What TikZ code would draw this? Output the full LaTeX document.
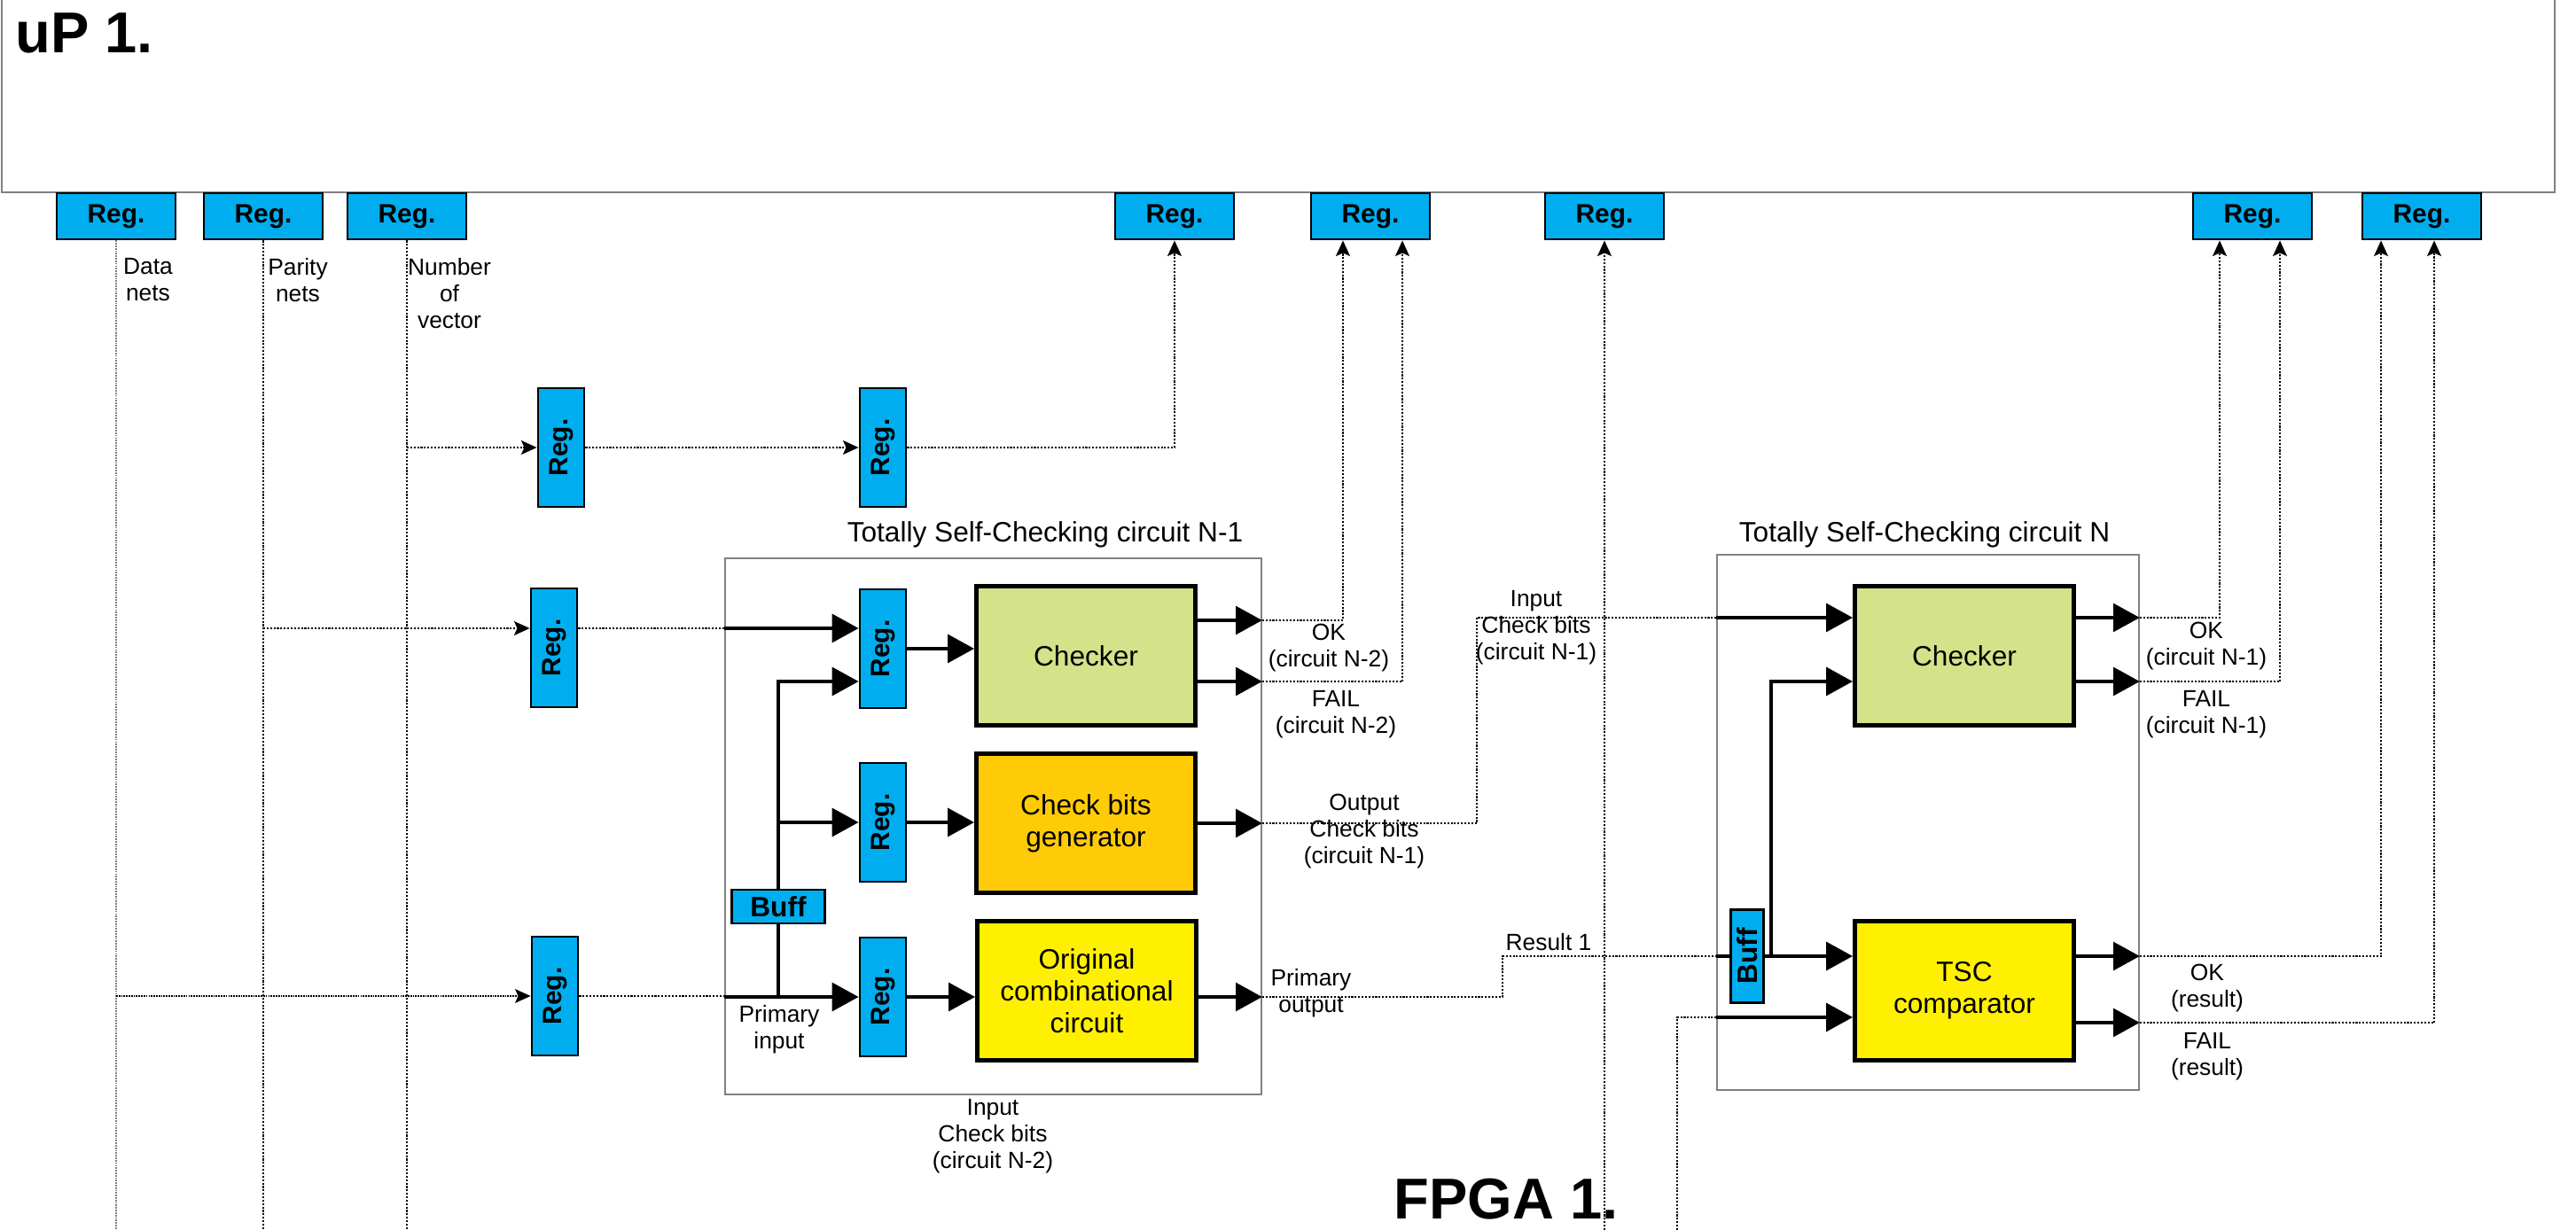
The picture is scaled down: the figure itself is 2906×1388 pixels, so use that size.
\documentclass[tikz,border=0pt]{standalone}
\usepackage{fontspec}
\setmainfont{Liberation Sans}
\usetikzlibrary{arrows.meta}

\definecolor{regblue}{RGB}{0,174,239}
\definecolor{chkgreen}{RGB}{212,226,138}
\definecolor{genorange}{RGB}{255,203,8}
\definecolor{origyellow}{RGB}{255,240,0}

\tikzset{
  reg/.style={draw, line width=0.8pt, fill=regblue, inner sep=0pt,
    font=\bfseries\fontsize{8.5}{9}\selectfont, minimum width=13.4mm, minimum height=5.2mm},
  vreg/.style={reg, minimum width=5.2mm, minimum height=13.4mm},
  blk/.style={draw, line width=1.4pt, minimum width=24.7mm, minimum height=15.7mm,
    align=center, inner sep=0pt, font=\fontsize{9}{10.3}\selectfont},
  tscbox/.style={draw=gray, line width=0.5pt, inner sep=0pt},
  bus/.style={line width=1.2pt},
  busarrow/.style={bus, -{Triangle[length=8.5pt,width=9pt]}},
  sig/.style={line width=0.7pt, dash pattern=on 0.6pt off 0.5pt},
  sigarrow/.style={sig, -{Stealth[length=5pt,width=4.5pt,inset=1pt]}},
  datal/.style={gray, line width=0.4pt, dash pattern=on 0.5pt off 0.3pt},
  lbl/.style={align=center, inner sep=0pt, font=\fontsize{7.5}{8.5}\selectfont},
}

\begin{document}
\begin{tikzpicture}[x=0.1mm, y=-0.1mm]
  \useasboundingbox (0,0) rectangle (2906,1388);
  \coordinate (bot) at (0,1388);

  % uP 1.
  \draw[gray, line width=0.6pt] (2,-20) rectangle (2882,217);
  \node[anchor=base west, inner sep=0pt, font=\bfseries\fontsize{18.5}{20}\selectfont] (uptitle) at (17,60) {uP 1.};

  % registri del uP
  \node[reg] (regA) at (131,244) {Reg.};
  \node[reg] (regB) at (297,244) {Reg.};
  \node[reg] (regC) at (459,244) {Reg.};
  \node[reg] (regD) at (1325,244) {Reg.};
  \node[reg] (regE) at (1546,244) {Reg.};
  \node[reg] (regF) at (1810,244) {Reg.};
  \node[reg] (regG) at (2541,244) {Reg.};
  \node[reg] (regH) at (2732,244) {Reg.};

  \node[lbl] (datalbl) at (167,316) {Data\\nets};
  \node[lbl] (parlbl) at (336,316) {Parity\\nets};
  \node[lbl] (numlbl) at (507,331) {Number\\of\\vector};

  % circuiti TSC
  \node[tscbox, minimum width=60.5mm, minimum height=60.5mm] (tscA) at (1120.5,932.5) {};
  \node[tscbox, minimum width=47.6mm, minimum height=60.4mm] (tscB) at (2175,928) {};
  \node[font=\fontsize{9}{10}\selectfont] (tscAtitle) at (1179,603) {Totally Self-Checking circuit N-1};
  \node[font=\fontsize{9}{10}\selectfont] (tscBtitle) at (2171,603) {Totally Self-Checking circuit N};

  % registri verticali
  \node[vreg] (vregA) at (633,505) {\rotatebox{90}{Reg.}};
  \node[vreg] (vregB) at (996,505) {\rotatebox{90}{Reg.}};
  \node[vreg] (vregP) at (625,731) {\rotatebox{90}{Reg.}};
  \node[vreg] (vregQ) at (626,1124) {\rotatebox{90}{Reg.}};
  \node[vreg] (inA) at (996,732) {\rotatebox{90}{Reg.}};
  \node[vreg] (inB) at (996,928) {\rotatebox{90}{Reg.}};
  \node[vreg] (inC) at (996,1125) {\rotatebox{90}{Reg.}};

  % blocchi
  \node[blk, fill=chkgreen] (chkA) at (1225,740) {Checker};
  \node[blk, fill=genorange] (gen) at (1225,929) {Check bits\\generator};
  \node[blk, fill=origyellow] (orig) at (1226,1118) {Original\\combinational\\circuit};
  \node[blk, fill=chkgreen] (chkB) at (2216,740) {Checker};
  \node[blk, fill=origyellow] (cmp) at (2216,1118) {TSC\\comparator};

  \node[reg, minimum width=10.5mm, minimum height=3.8mm, font=\bfseries\fontsize{9}{10}\selectfont] (buffA) at (878,1023) {Buff};
  \node[reg, minimum width=3.7mm, minimum height=10.5mm, font=\bfseries\fontsize{9}{10}\selectfont] (buffB) at (1971,1079) {\rotatebox{90}{Buff}};

  \coordinate (rowP) at (0,709);
  \coordinate (rowOK) at (0,700);
  \coordinate (rowF) at (0,769);
  \coordinate (cbTurn) at (1666,697);
  \coordinate (resTurn) at (1695,1079);
  \coordinate (busB) at (1998,1079);
  \coordinate (cmpIn) at (1892,1148);
  \coordinate (rowFR) at (0,1154);

  % linee dal uP
  \draw[datal] (regA.south) -- (regA.south |- bot);
  \draw[sig] (regB.south) -- (regB.south |- bot);
  \draw[sig] (regC.south) -- (regC.south |- bot);

  % numero del vettore
  \draw[sigarrow] (regC.south |- vregA) -- (vregA.west);
  \draw[sigarrow] (vregA.east) -- (vregB.west);
  \draw[sigarrow] (vregB.east) -| (regD.south);

  % bit di parita
  \draw[sigarrow] (regB.south |- rowP) -- (vregP.west |- rowP);
  \draw[sig] (vregP.east |- rowP) -- (tscA.west |- rowP);
  \draw[busarrow] (tscA.west |- rowP) -- (inA.west |- rowP);

  % dati
  \draw[datal, -{Stealth[length=5pt,width=4.5pt,inset=1pt]}, black] (regA.south |- vregQ) -- (vregQ.west);
  \draw[sig] (vregQ.east) -- (tscA.west |- vregQ);
  \draw[busarrow] (tscA.west |- inC) -- (inC.west);
  \draw[bus] (buffA.south |- inC) -- (buffA.south);
  \draw[busarrow] (buffA.north) |- (inA.west |- rowF);
  \draw[busarrow] (buffA.north |- inB) -- (inB.west);

  \draw[busarrow] (inA.east) -- (chkA.west |- inA);
  \draw[busarrow] (inB.east) -- (gen.west |- inB);
  \draw[busarrow] (inC.east) -- (orig.west |- inC);

  % uscite circuito N-1
  \draw[busarrow] (chkA.east |- rowOK) -- (tscA.east |- rowOK);
  \draw[busarrow] (chkA.east |- rowF) -- (tscA.east |- rowF);
  \draw[busarrow] (gen.east) -- (tscA.east |- gen);
  \draw[busarrow] (orig.east |- inC) -- (tscA.east |- inC);
  \draw[sigarrow] (tscA.east |- rowOK) -| ([xshift=-3.1mm]regE.south);
  \draw[sigarrow] (tscA.east |- rowF) -| ([xshift=3.6mm]regE.south);
  \draw[sig] (tscA.east |- gen) -| (cbTurn) -- (tscB.west |- cbTurn);
  \draw[sig] (tscA.east |- inC) -| (resTurn) -- (tscB.west |- resTurn);

  % circuito N
  \draw[busarrow] (tscB.west |- cbTurn) -- (chkB.west |- cbTurn);
  \draw[bus] (tscB.west |- resTurn) -- (buffB.west);
  \draw[busarrow] (buffB.east) -- (cmp.west |- buffB);
  \draw[busarrow] (busB) |- (chkB.west |- rowF);
  \draw[sig] (cmpIn |- bot) -- (cmpIn) -- (tscB.west |- cmpIn);
  \draw[busarrow] (tscB.west |- cmpIn) -- (cmp.west |- cmpIn);
  \draw[sigarrow] (regF.south |- bot) -- (regF.south);

  \draw[busarrow] (chkB.east |- cbTurn) -- (tscB.east |- cbTurn);
  \draw[busarrow] (chkB.east |- rowF) -- (tscB.east |- rowF);
  \draw[busarrow] (cmp.east |- resTurn) -- (tscB.east |- resTurn);
  \draw[busarrow] (cmp.east |- rowFR) -- (tscB.east |- rowFR);
  \draw[sigarrow] (tscB.east |- cbTurn) -| ([xshift=-3.7mm]regG.south);
  \draw[sigarrow] (tscB.east |- rowF) -| ([xshift=3.1mm]regG.south);
  \draw[sigarrow] (tscB.east |- resTurn) -| ([xshift=-4.6mm]regH.south);
  \draw[sigarrow] (tscB.east |- rowFR) -| ([xshift=1.4mm]regH.south);

  % etichette
  \node[lbl] (okA) at (1499,731) {OK\\(circuit N-2)};
  \node[lbl] (failA) at (1507,806) {FAIL\\(circuit N-2)};
  \node[lbl] (outcb) at (1539,938) {Output\\Check bits\\(circuit N-1)};
  \node[lbl] (incb) at (1733,708) {Input\\Check bits\\(circuit N-1)};
  \node[lbl] (res1) at (1747,1063) {Result 1};
  \node[lbl] (primout) at (1479,1121) {Primary\\output};
  \node[lbl] (primin) at (879,1162) {Primary\\input};
  \node[lbl] (incbA) at (1120,1282) {Input\\Check bits\\(circuit N-2)};
  \node[lbl] (okB) at (2489,729) {OK\\(circuit N-1)};
  \node[lbl] (failB) at (2489,806) {FAIL\\(circuit N-1)};
  \node[lbl] (okR) at (2490,1115) {OK\\(result)};
  \node[lbl] (failR) at (2490,1192) {FAIL\\(result)};

  \node[anchor=base west, inner sep=0pt, font=\bfseries\fontsize{18.5}{20}\selectfont] (fpgatitle) at (1572,1375) {FPGA 1.};
\end{tikzpicture}
\end{document}
